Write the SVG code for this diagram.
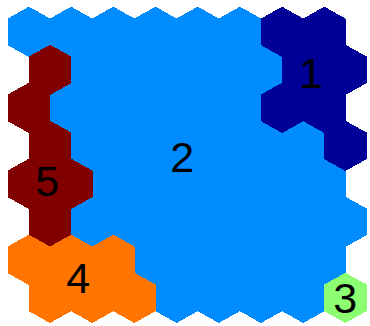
<svg xmlns="http://www.w3.org/2000/svg" xmlns:xlink="http://www.w3.org/1999/xlink" width="370" height="326" viewBox="0 0 370 326">
<style>
.c1{fill:#000096;stroke:#000096}
.c2{fill:#008cff;stroke:#008cff}
.c3{fill:#8cff73;stroke:#8cff73}
.c4{fill:#ff7500;stroke:#ff7500}
.c5{fill:#800000;stroke:#800000}
use{stroke-width:1;stroke-linejoin:round;shape-rendering:crispEdges}
text{font-family:"Liberation Sans",Arial,Helvetica,sans-serif;font-size:43px;fill:#000;stroke:none;text-anchor:middle}
</style>
<defs>
<polygon id="hex" points="0,-24.6 20.9,-12.9 20.9,12.9 0,24.6 -20.9,12.9 -20.9,-12.9"/>
</defs>
<rect width="370" height="326" fill="#fff"/>
<g id="cluster2" class="c2">
<use href="#hex" x="28.9" y="31.85"/><use href="#hex" x="71.1" y="31.85"/><use href="#hex" x="113.3" y="31.85"/><use href="#hex" x="155.5" y="31.85"/><use href="#hex" x="197.7" y="31.85"/><use href="#hex" x="239.9" y="31.85"/>
<use href="#hex" x="92.2" y="69.85"/><use href="#hex" x="134.4" y="69.85"/><use href="#hex" x="176.6" y="69.85"/><use href="#hex" x="218.8" y="69.85"/><use href="#hex" x="261" y="69.85"/>
<use href="#hex" x="71.1" y="107.85"/><use href="#hex" x="113.3" y="107.85"/><use href="#hex" x="155.5" y="107.85"/><use href="#hex" x="197.7" y="107.85"/><use href="#hex" x="239.9" y="107.85"/>
<use href="#hex" x="92.2" y="145.85"/><use href="#hex" x="134.4" y="145.85"/><use href="#hex" x="176.6" y="145.85"/><use href="#hex" x="218.8" y="145.85"/><use href="#hex" x="261" y="145.85"/><use href="#hex" x="303.2" y="145.85"/>
<use href="#hex" x="113.3" y="183.85"/><use href="#hex" x="155.5" y="183.85"/><use href="#hex" x="197.7" y="183.85"/><use href="#hex" x="239.9" y="183.85"/><use href="#hex" x="282.1" y="183.85"/><use href="#hex" x="324.3" y="183.85"/>
<use href="#hex" x="92.2" y="221.85"/><use href="#hex" x="134.4" y="221.85"/><use href="#hex" x="176.6" y="221.85"/><use href="#hex" x="218.8" y="221.85"/><use href="#hex" x="261" y="221.85"/><use href="#hex" x="303.2" y="221.85"/><use href="#hex" x="345.4" y="221.85"/>
<use href="#hex" x="155.5" y="259.85"/><use href="#hex" x="197.7" y="259.85"/><use href="#hex" x="239.9" y="259.85"/><use href="#hex" x="282.1" y="259.85"/><use href="#hex" x="324.3" y="259.85"/>
<use href="#hex" x="176.6" y="297.85"/><use href="#hex" x="218.8" y="297.85"/><use href="#hex" x="261" y="297.85"/><use href="#hex" x="303.2" y="297.85"/>
<text x="182.3" y="171.7">2</text>
</g>
<g id="cluster1" class="c1">
<use href="#hex" x="282.1" y="31.85"/><use href="#hex" x="324.3" y="31.85"/>
<use href="#hex" x="303.2" y="69.85"/><use href="#hex" x="345.4" y="69.85"/>
<use href="#hex" x="282.1" y="107.85"/><use href="#hex" x="324.3" y="107.85"/>
<use href="#hex" x="345.4" y="145.85"/>
<text x="311" y="88.3">1</text>
</g>
<g id="cluster5" class="c5">
<use href="#hex" x="50" y="69.85"/>
<use href="#hex" x="28.9" y="107.85"/>
<use href="#hex" x="50" y="145.85"/>
<use href="#hex" x="28.9" y="183.85"/><use href="#hex" x="71.1" y="183.85"/>
<use href="#hex" x="50" y="221.85"/>
<text x="47.3" y="196">5</text>
</g>
<g id="cluster4" class="c4">
<use href="#hex" x="28.9" y="259.85"/><use href="#hex" x="71.1" y="259.85"/><use href="#hex" x="113.3" y="259.85"/>
<use href="#hex" x="50" y="297.85"/><use href="#hex" x="92.2" y="297.85"/><use href="#hex" x="134.4" y="297.85"/>
<text x="78.3" y="293.3">4</text>
</g>
<g id="cluster3" class="c3">
<use href="#hex" x="345.4" y="297.85"/>
<text x="345.3" y="312.5">3</text>
</g>
</svg>
